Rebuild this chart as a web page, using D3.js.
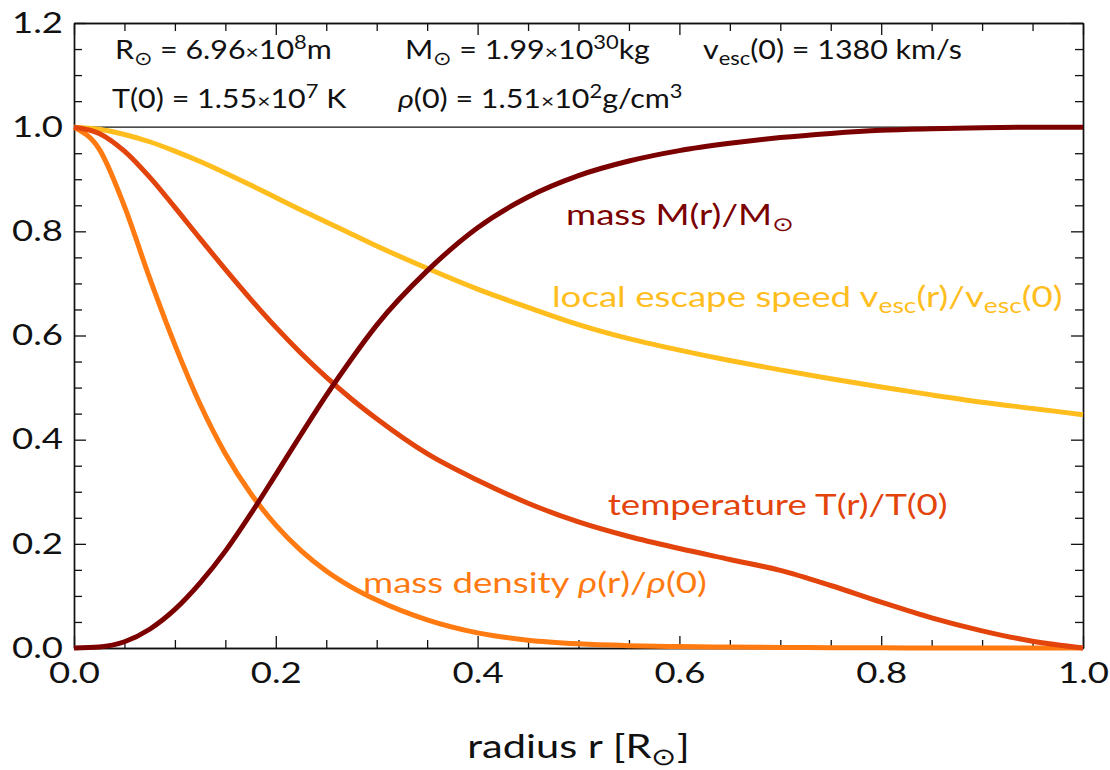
<!DOCTYPE html>
<html>
<head>
<meta charset="utf-8">
<script src="https://cdn.jsdelivr.net/npm/d3@7"></script>
<style>
  body { margin: 0; background: #fff; }
  svg text { font-family: Lato, "Open Sans", sans-serif; }
</style>
</head>
<body>
<svg class="sun" width="1110" height="770"></svg>
<script>
// radius grid (fraction of solar radius)
const radius = [0, 0.025, 0.05, 0.075, 0.1, 0.125, 0.15, 0.175, 0.2, 0.225, 0.25, 0.275, 0.3,
  0.35, 0.4, 0.45, 0.5, 0.55, 0.6, 0.65, 0.7, 0.75, 0.8, 0.85, 0.9, 0.95, 1.0];

const massRatio = [0, 0.002, 0.012, 0.036, 0.074, 0.125, 0.186, 0.257, 0.333, 0.41, 0.485, 0.555, 0.62,
  0.724, 0.807, 0.866, 0.907, 0.935, 0.955, 0.969, 0.98, 0.988, 0.994, 0.997, 0.999, 1.0, 1.0];

const escapeRatio = [1, 0.996, 0.986, 0.972, 0.954, 0.934, 0.912, 0.889, 0.865, 0.841, 0.818, 0.795, 0.772,
  0.729, 0.689, 0.654, 0.621, 0.594, 0.572, 0.552, 0.534, 0.517, 0.501, 0.486, 0.472, 0.46, 0.448];

const tempRatio = [1, 0.988, 0.954, 0.904, 0.846, 0.786, 0.727, 0.67, 0.616, 0.566, 0.52, 0.478, 0.44,
  0.373, 0.322, 0.278, 0.242, 0.214, 0.191, 0.17, 0.149, 0.12, 0.088, 0.058, 0.033, 0.013, 0];

const densityRatio = [1, 0.958, 0.848, 0.71, 0.582, 0.468, 0.373, 0.297, 0.236, 0.187, 0.148, 0.117, 0.092,
  0.054, 0.029, 0.015, 0.008, 0.0045, 0.0027, 0.0017, 0.0011, 0.0006, 0.0003, 0.00015, 0.00005, 0, 0];

const xTicks = [0, 0.2, 0.4, 0.6, 0.8, 1.0];
const yTicks = [0, 0.2, 0.4, 0.6, 0.8, 1.0, 1.2];

const MASS_COLOR = "#7b0000";
const ESC_COLOR = "#ffbe1e";
const TEMP_COLOR = "#e2440c";
const DENS_COLOR = "#ff7a10";

var svg = d3.select("svg.sun"),
  margin = { top: 23, right: 27, bottom: 122, left: 74 },
  width = +svg.attr("width") - margin.left - margin.right,
  height = +svg.attr("height") - margin.top - margin.bottom;

const chartG = svg.append("g").attr("transform", `translate(${margin.left}, ${margin.top})`);

const xScale = d3.scaleLinear().domain([0, 1]).range([0, width]);
const yScale = d3.scaleLinear().domain([0, 1.2]).range([height, 0]);

const minorX = d3.range(0, 1.0001, 0.05).filter((v) => Math.abs(v * 5 - Math.round(v * 5)) > 1e-6);
const minorY = d3.range(0, 1.2001, 0.05).filter((v) => Math.abs(v * 5 - Math.round(v * 5)) > 1e-6);

const MAJOR = 12, MINOR = 8;
// the reference typeface is wider than Lato, stretch text horizontally
const TICK_STRETCH = 1.26;

const styleAxis = (g) => {
  g.select(".domain").attr("stroke", "#111").attr("stroke-width", 1.4);
  g.selectAll(".tick line").attr("stroke", "#111").attr("stroke-width", 1.3);
  g.selectAll(".tick text").attr("fill", "#111").attr("font-size", 29)
    .attr("transform", `scale(${TICK_STRETCH},1)`);
};

// bottom
chartG.append("g").attr("transform", `translate(0, ${height})`)
  .call(d3.axisBottom(xScale).tickValues(xTicks).tickSizeInner(-MAJOR).tickSizeOuter(0)
    .tickPadding(14).tickFormat(d3.format(".1f")))
  .call(styleAxis);
chartG.append("g").attr("transform", `translate(0, ${height})`)
  .call(d3.axisBottom(xScale).tickValues(minorX).tickSizeInner(-MINOR).tickSizeOuter(0).tickFormat(""))
  .call(styleAxis);
// top
chartG.append("g")
  .call(d3.axisTop(xScale).tickValues(xTicks).tickSizeInner(-MAJOR).tickSizeOuter(0).tickFormat(""))
  .call(styleAxis);
chartG.append("g")
  .call(d3.axisTop(xScale).tickValues(minorX).tickSizeInner(-MINOR).tickSizeOuter(0).tickFormat(""))
  .call(styleAxis);
// left
chartG.append("g")
  .call(d3.axisLeft(yScale).tickValues(yTicks).tickSizeInner(-MAJOR).tickSizeOuter(0)
    .tickPadding(11 / TICK_STRETCH).tickFormat(d3.format(".1f")))
  .call(styleAxis);
chartG.append("g")
  .call(d3.axisLeft(yScale).tickValues(minorY).tickSizeInner(-MINOR).tickSizeOuter(0).tickFormat(""))
  .call(styleAxis);
// right
chartG.append("g").attr("transform", `translate(${width}, 0)`)
  .call(d3.axisRight(yScale).tickValues(yTicks).tickSizeInner(-MAJOR).tickSizeOuter(0).tickFormat(""))
  .call(styleAxis);
chartG.append("g").attr("transform", `translate(${width}, 0)`)
  .call(d3.axisRight(yScale).tickValues(minorY).tickSizeInner(-MINOR).tickSizeOuter(0).tickFormat(""))
  .call(styleAxis);

// reference line at 1.0
chartG.append("line")
  .attr("x1", 0).attr("x2", width)
  .attr("y1", yScale(1)).attr("y2", yScale(1))
  .attr("stroke", "#111").attr("stroke-width", 1.4);

// CURVES
const series = [
  { values: escapeRatio, color: ESC_COLOR },
  { values: densityRatio, color: DENS_COLOR },
  { values: tempRatio, color: TEMP_COLOR },
  { values: massRatio, color: MASS_COLOR },
];

const line = d3.line()
  .curve(d3.curveMonotoneX)
  .x((d) => xScale(d[0]))
  .y((d) => yScale(d[1]));

series.forEach((s) => {
  chartG.append("path")
    .datum(radius.map((r, i) => [r, s.values[i]]))
    .attr("d", line)
    .attr("fill", "none")
    .attr("stroke", s.color)
    .attr("stroke-width", 5)
    .attr("stroke-linejoin", "round");
});

// rich text helper: parts = [text, kind] with kind in "", "sub", "sup", "it", "small"
function richText(g, x, y, parts, size, color, stretch) {
  const t = g.append("text")
    .attr("transform", `translate(${x},${y}) scale(${stretch},1)`)
    .attr("font-size", size).attr("fill", color);
  let shift = 0;
  parts.forEach(([str, kind]) => {
    const ts = t.append("tspan").text(str);
    let target = 0;
    if (kind === "sub") { ts.attr("font-size", size * 0.72); target = size * 0.22; }
    else if (kind === "sup") { ts.attr("font-size", size * 0.72); target = -size * 0.38; }
    else if (kind === "small") { ts.attr("font-size", size * 0.75); }
    else if (kind === "it") { ts.attr("font-style", "italic"); }
    if (target !== shift) { ts.attr("dy", target - shift); shift = target; }
  });
  return t;
}

const SUN = "\u2299";
const INFO = "#111";
const HEAD = 26, HEAD_STRETCH = 1.17;
const LABEL = 28, LABEL_STRETCH = 1.31;

// header constants
richText(chartG, xScale(0.0406), yScale(1.131),
  [["R"], [SUN, "sub"], [" = 6.96"], ["\u00d7", "small"], ["10"], ["8", "sup"], ["m"]], HEAD, INFO, HEAD_STRETCH);
richText(chartG, xScale(0.0377), yScale(1.037),
  [["T(0) = 1.55"], ["\u00d7", "small"], ["10"], ["7", "sup"], [" K"]], HEAD, INFO, HEAD_STRETCH);
richText(chartG, xScale(0.328), yScale(1.131),
  [["M"], [SUN, "sub"], [" = 1.99"], ["\u00d7", "small"], ["10"], ["30", "sup"], ["kg"]], HEAD, INFO, HEAD_STRETCH);
richText(chartG, xScale(0.321), yScale(1.037),
  [["\u03c1", "it"], ["(0) = 1.51"], ["\u00d7", "small"], ["10"], ["2", "sup"], ["g/cm"], ["3", "sup"]], HEAD, INFO, HEAD_STRETCH);
richText(chartG, xScale(0.6234), yScale(1.131),
  [["v"], ["esc", "sub"], ["(0) = 1380 km/s"]], HEAD, INFO, HEAD_STRETCH);

// curve labels
richText(chartG, xScale(0.4876), yScale(0.812),
  [["mass M(r)/M"], [SUN, "sub"]], LABEL, MASS_COLOR, LABEL_STRETCH);
richText(chartG, xScale(0.4737), yScale(0.655),
  [["local escape speed v"], ["esc", "sub"], ["(r)/v"], ["esc", "sub"], ["(0)"]], LABEL, ESC_COLOR, LABEL_STRETCH);
richText(chartG, xScale(0.529), yScale(0.255),
  [["temperature T(r)/T(0)"]], LABEL, TEMP_COLOR, LABEL_STRETCH);
richText(chartG, xScale(0.2864), yScale(0.1056),
  [["mass density "], ["\u03c1", "it"], ["(r)/"], ["\u03c1", "it"], ["(0)"]], LABEL, DENS_COLOR, LABEL_STRETCH);

// x axis title
richText(svg, margin.left + width / 2, 758,
  [["radius r [R"], [SUN, "sub"], ["]"]], 33, "#111", 1.26)
  .attr("text-anchor", "middle");
</script>
</body>
</html>
